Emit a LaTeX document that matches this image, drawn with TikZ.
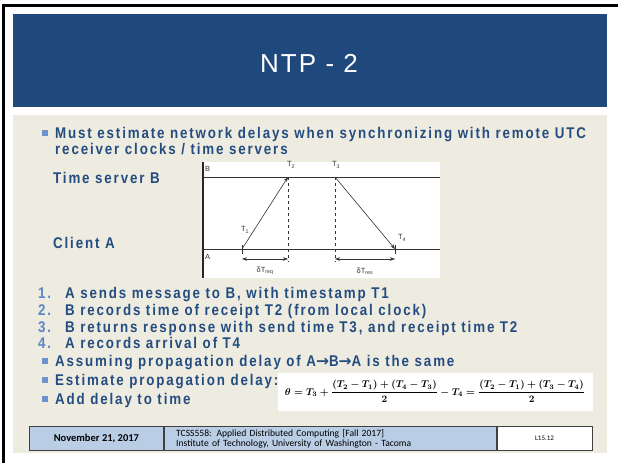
\documentclass[tikz,border=0pt]{standalone}
\usepackage{fontspec}
\usepackage{amsmath}
\setmainfont{Liberation Sans}
\newfontfamily\titlefont{Liberation Sans}[LetterSpace=8]
\newfontfamily\bodyfont{Liberation Sans}[FakeStretch=0.86,LetterSpace=12]
\newfontfamily\arrowfont{DejaVu Sans}
\newfontfamily\footfont{Carlito}
\usetikzlibrary{arrows.meta}
\definecolor{slidebg}{HTML}{EEEBE0}
\definecolor{bandblue}{HTML}{1F497D}
\definecolor{textblue}{HTML}{234D80}
\definecolor{numblue}{HTML}{5B86C5}
\definecolor{bulletblue}{HTML}{6C93CB}
\definecolor{footblue}{HTML}{B9CDE5}
\newcommand{\toarr}{{\arrowfont\bfseries →}}

\begin{document}
\begin{tikzpicture}[x=1pt,y=-1pt,
    txt/.style={anchor=base west,inner sep=0,text=textblue,font=\bodyfont\bfseries\fontsize{15.5}{17}\selectfont},
    num/.style={anchor=base west,inner sep=0,text=numblue,font=\bodyfont\bfseries\fontsize{15.5}{17}\selectfont},
    bul/.style={fill=bulletblue,inner sep=0,minimum size=5.5pt},
    lbl/.style={inner sep=0,text=black!80,font=\fontsize{7.5}{9}\selectfont},
    foot/.style={draw=black!75,line width=0.8pt,inner sep=0,minimum height=24pt,anchor=north west},
    msg/.style={-{Stealth[length=5pt,width=3.5pt]},black!80,line width=0.6pt}]
  \useasboundingbox (0,0) rectangle (618,463);
  % slide frame and background
  \fill[white] (0,0) rectangle (618,463);
  \fill[black] (2,4) rectangle (618,7);
  \fill[black] (2,4) rectangle (5,463);
  \fill[slidebg] (13,115) rectangle (607,453);
  \fill[bandblue] (13,14) rectangle (607,107);
  \node[text=white,font=\titlefont\fontsize{26}{30}\selectfont] (title) at (309,63) {NTP - 2};

  % first bullet
  \node[bul] (b1) at (45,133) {};
  \node[txt] (must) at (55,138) {Must estimate network delays when synchronizing with remote UTC};
  \node[txt] (recv) at (55,154) {receiver clocks / time servers};
  \node[txt] (server) at (53,183) {Time server B};
  \node[txt] (client) at (53,248) {Client A};

  % timing diagram
  \fill[white] (203,162) rectangle (440,278);
  \coordinate (t1) at (242,249);
  \coordinate (t2) at (288,177);
  \coordinate (t3) at (335,177);
  \coordinate (t4) at (395,249);
  \draw[line width=1.2pt,black!85] (203,162) -- (203,278);
  \draw[black!80,line width=0.6pt] (203,177) -- (440,177);
  \draw[black!80,line width=0.6pt] (203,249) -- (440,249);
  \draw[black!80,dashed,line width=0.5pt] (t2) -- (288,262);
  \draw[black!80,dashed,line width=0.5pt] (t3) -- (335,262);
  \draw[black!80,line width=0.5pt] (242,245) -- (242,254);
  \draw[black!80,line width=0.5pt] (395,245) -- (395,254);
  \draw[msg] (t1) -- (t2);
  \draw[msg] (t3) -- (t4);
  \draw[{Stealth[length=5pt,width=3.5pt]}-{Stealth[length=5pt,width=3.5pt]},black!80,line width=0.5pt] (242,259) -- (288,259);
  \draw[{Stealth[length=5pt,width=3.5pt]}-{Stealth[length=5pt,width=3.5pt]},black!80,line width=0.5pt] (335,259) -- (395,259);
  \node[lbl,anchor=west] (lb) at (205,169) {B};
  \node[lbl,anchor=west] (la) at (205,257) {A};
  \node[lbl] (lt1) at (245,230) {T\textsubscript{1}};
  \node[lbl] (lt2) at (291,165) {T\textsubscript{2}};
  \node[lbl] (lt3) at (336,165) {T\textsubscript{3}};
  \node[lbl] (lt4) at (402,238) {T\textsubscript{4}};
  \node[lbl] (req) at (265,271) {δT\textsubscript{req}};
  \node[lbl] (res) at (365,271) {δT\textsubscript{res}};

  % numbered steps
  \node[num] (n1) at (38,298) {1.};
  \node[txt] (s1) at (65,298) {A sends message to B, with timestamp T1};
  \node[num] (n2) at (38,315) {2.};
  \node[txt] (s2) at (65,315) {B records time of receipt T2 (from local clock)};
  \node[num] (n3) at (38,332) {3.};
  \node[txt] (s3) at (65,332) {B returns response with send time T3, and receipt time T2};
  \node[num] (n4) at (38,348) {4.};
  \node[txt] (s4) at (65,348) {A records arrival of T4};

  % formula box, then the remaining bullets
  \node[fill=white,inner sep=0,minimum width=315pt,minimum height=38pt] (eq) at (435,391.5)
    {\resizebox{300pt}{!}{$\boldsymbol{\theta = T_3+\dfrac{(T_2-T_1)+(T_4-T_3)}{2}-T_4=\dfrac{(T_2-T_1)+(T_3-T_4)}{2}}$}};
  \node[bul] (b2) at (45,361) {};
  \node[txt] (same) at (55,366) {Assuming propagation delay of A\toarr B\toarr A is the same};
  \node[bul] (b3) at (45,380) {};
  \node[txt] (est) at (55,385) {Estimate propagation delay:};
  \node[bul] (b4) at (45,399) {};
  \node[txt] (add) at (55,404) {Add delay to time};

  % footer
  \node[foot,fill=footblue,minimum width=134pt,font=\footfont\bfseries\fontsize{10.5}{12}\selectfont] (date) at (29,426) {November 21, 2017};
  \node[foot,fill=footblue,text width=308pt,inner xsep=12pt,align=left,font=\footfont\fontsize{9.6}{10}\selectfont] (course) at (date.north east)
    {TCSS558: Applied Distributed Computing [Fall 2017]\\Institute of Technology, University of Washington - Tacoma};
  \node[foot,fill=white,minimum width=95pt,font=\footfont\fontsize{7}{8}\selectfont] (page) at (course.north east) {L15.12};
\end{tikzpicture}
\end{document}
